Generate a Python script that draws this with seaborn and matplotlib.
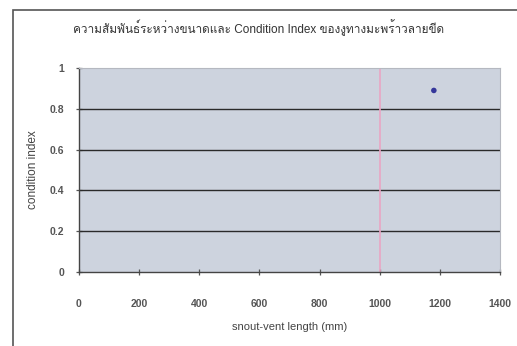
import matplotlib
matplotlib.use("Agg")
import matplotlib.pyplot as plt
import seaborn as sns
import pandas as pd
from matplotlib import font_manager
from matplotlib.ft2font import FT2Font
from matplotlib.patches import Rectangle

# ---- data ----
snout_vent_length = [1180]
condition_index = [0.89]
x_ticks = [0, 200, 400, 600, 800, 1000, 1200, 1400]
y_ticks = [0, 0.2, 0.4, 0.6, 0.8, 1]
y_tick_labels = ["0", "0.2", "0.4", "0.6", "0.8", "1"]
ref_line_x = 1000
title = "ความสัมพันธ์ระหว่างขนาดและ Condition Index ของงูทางมะพร้าวลายขีด"
x_label = "snout-vent length (mm)"
y_label = "condition index"

df = pd.DataFrame({"svl": snout_vent_length, "ci": condition_index})

sns.set_theme(style="white")

# find a font with Thai glyphs
thai_family = None
for f in font_manager.fontManager.ttflist:
    try:
        cm = FT2Font(f.fname).get_charmap()
        if 0x0E01 in cm and 0x0E2A in cm:
            thai_family = f.name
            break
    except Exception:
        pass
families = ["Liberation Sans"] + ([thai_family] if thai_family else []) + ["DejaVu Sans"]
plt.rcParams["font.family"] = families

fig = plt.figure(figsize=(5.17, 3.46), dpi=100)
fig.patch.set_facecolor("white")
# outer chart border (right and bottom edges lie outside the image)
fig.patches.append(Rectangle((13/517, -0.1), 1.2, 1.1 - 10/346,
                             transform=fig.transFigure, fill=False,
                             edgecolor="#555555", lw=1.2))

ax = fig.add_axes([79/517, (346-272)/346, (500-79)/517, (272-68)/346])
ax.set_facecolor("#cdd3de")

for yv in y_ticks[1:-1]:
    ax.axhline(yv, color="#2a2a2a", lw=1.0, zorder=1)
ax.axvline(ref_line_x, color="#e9a6c4", lw=1.2, zorder=1)

sns.scatterplot(data=df, x="svl", y="ci", ax=ax, color="#35379a",
                s=16, edgecolor="none", zorder=3)

ax.set_xlim(0, 1400)
ax.set_ylim(0, 1)
ax.set_xticks(x_ticks)
ax.set_yticks(y_ticks)
ax.set_yticklabels(y_tick_labels)
ax.tick_params(axis="both", labelsize=7.5, colors="#555555", length=5,
               width=0.9, direction="inout", bottom=True, left=True)
ax.tick_params(axis="x", pad=17)
ax.tick_params(axis="y", pad=8)
for lab in ax.get_xticklabels() + ax.get_yticklabels():
    lab.set_fontweight("bold")

for s in ["left", "bottom"]:
    ax.spines[s].set_color("#444444")
    ax.spines[s].set_linewidth(1.0)
for s in ["top", "right"]:
    ax.spines[s].set_color("#b5b8c0")
    ax.spines[s].set_linewidth(0.8)

ax.set_xlabel(x_label, fontsize=8, color="#444444", labelpad=9)
ax.set_ylabel(y_label, fontsize=8.5, color="#444444", labelpad=8)
fig.text(0.5, 1 - 28/346, title, ha="center", va="center",
         fontsize=8.5, color="#333333")

fig.savefig("out.png", dpi=100)
